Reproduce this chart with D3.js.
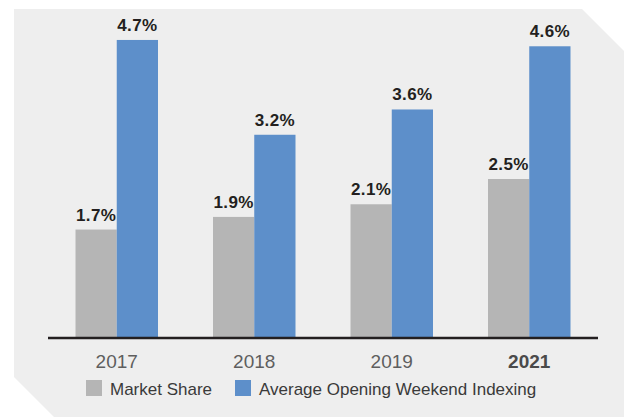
<!DOCTYPE html>
<html>
<head>
<meta charset="utf-8">
<script src="https://cdn.jsdelivr.net/npm/d3@7"></script>
<style>
  html, body { margin: 0; padding: 0; background: #fff; }
  svg { display: block; }
</style>
</head>
<body>
<div id="chart"></div>
<script>
const years = ["2017", "2018", "2019", "2021"];
const seriesNames = ["Market Share", "Average Opening Weekend Indexing"];
const marketShare = [1.7, 1.9, 2.1, 2.5];
const openingIndex = [4.7, 3.2, 3.6, 4.6];
const boldYears = ["2021"];

const W = 624, H = 417;
const colors = ["#b5b5b5", "#5d8fca"];

const svg = d3.select("#chart").append("svg")
  .attr("width", W).attr("height", H)
  .style("font-family", "'Liberation Sans', Arial, sans-serif");

// background panel with cut corners
svg.append("path")
  .attr("d", "M14,9 L582,9 L640,67 L640,430 L67,430 L14,377 Z")
  .attr("fill", "#eeeeee");

const baseY = 337;
const x0 = d3.scaleBand().domain(years).range([48, 598]).paddingInner(0.4).paddingOuter(0.2);
const x1 = d3.scaleBand().domain(seriesNames).range([0, x0.bandwidth()]);
const y = d3.scaleLinear().domain([0, 5]).range([baseY, baseY - 5 * 63.2]);

const rows = years.map((yr, i) => ({
  year: yr,
  values: [
    { key: seriesNames[0], v: marketShare[i] },
    { key: seriesNames[1], v: openingIndex[i] }
  ]
}));

const g = svg.append("g");
const groups = g.selectAll("g.grp").data(rows).join("g")
  .attr("class", "grp")
  .attr("transform", d => `translate(${x0(d.year)},0)`);

groups.selectAll("rect").data(d => d.values).join("rect")
  .attr("x", d => x1(d.key))
  .attr("width", x1.bandwidth())
  .attr("y", d => y(d.v))
  .attr("height", d => y(0) - y(d.v))
  .attr("fill", (d, i) => colors[i]);

groups.selectAll("text.val").data(d => d.values).join("text")
  .attr("class", "val")
  .attr("x", d => x1(d.key) + x1.bandwidth() / 2)
  .attr("y", d => y(d.v) - 9)
  .attr("text-anchor", "middle")
  .attr("font-size", 17)
  .attr("letter-spacing", 0.4)
  .attr("font-weight", "bold")
  .attr("fill", "#231f20")
  .text(d => d.v.toFixed(1) + "%");

// baseline
svg.append("line")
  .attr("x1", 48).attr("x2", 598)
  .attr("y1", baseY + 1).attr("y2", baseY + 1)
  .attr("stroke", "#231f20").attr("stroke-width", 2.5);

// x axis labels
const xAxis = svg.append("g")
  .attr("transform", `translate(0,${baseY + 1})`)
  .call(d3.axisBottom(x0).tickSize(0).tickPadding(17));
xAxis.select(".domain").remove();
xAxis.selectAll("text")
  .attr("font-size", 19)
  .attr("font-family", "'Liberation Sans', Arial, sans-serif")
  .attr("fill", d => boldYears.includes(d) ? "#4a4a4a" : "#5e5e5e")
  .attr("font-weight", d => boldYears.includes(d) ? "bold" : "normal");

// legend
const legendX = [86, 235];
const leg = svg.append("g");
seriesNames.forEach((name, i) => {
  leg.append("rect")
    .attr("x", legendX[i]).attr("y", 380)
    .attr("width", 16).attr("height", 16)
    .attr("fill", colors[i]);
  leg.append("text")
    .attr("x", legendX[i] + 24).attr("y", 395)
    .attr("font-size", 17)
    .attr("fill", "#3a3a3a")
    .text(name);
});
</script>
</body>
</html>
